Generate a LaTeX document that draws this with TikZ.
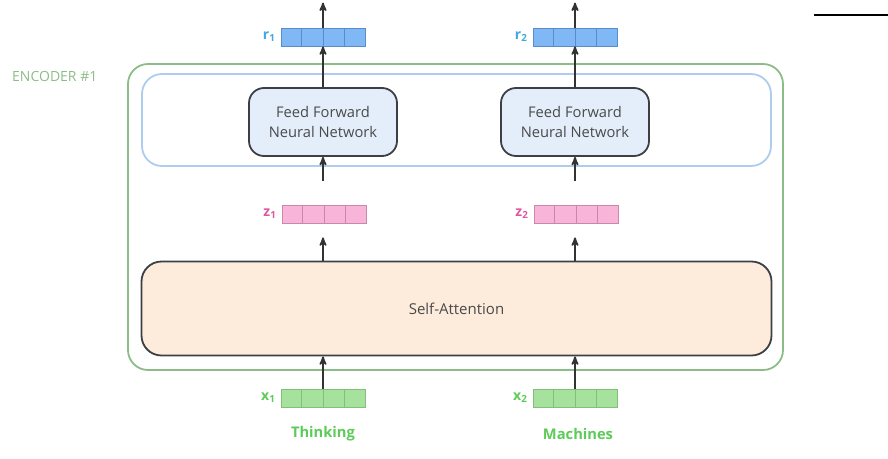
\documentclass[tikz,border=0pt]{standalone}
\usepackage{fontspec}
\setmainfont{Open Sans}
\usetikzlibrary{arrows}
\usetikzlibrary{positioning,calc}

\definecolor{encgreen}{HTML}{8CBD88}
\definecolor{ffblue}{HTML}{AECDEE}
\definecolor{fffill}{HTML}{E4EEFA}
\definecolor{safill}{HTML}{FDEBDB}
\definecolor{boxline}{HTML}{3C4045}
\definecolor{txtgray}{HTML}{4A4A4A}
\definecolor{rfill}{HTML}{80B8F5}
\definecolor{rline}{HTML}{5A8CC8}
\definecolor{rtext}{HTML}{3FA9DC}
\definecolor{zfill}{HTML}{F8B4D9}
\definecolor{zline}{HTML}{C88AA8}
\definecolor{ztext}{HTML}{E0579F}
\definecolor{xfill}{HTML}{A6E19E}
\definecolor{xline}{HTML}{80C079}
\definecolor{xtext}{HTML}{5CCB58}
\definecolor{arrowgray}{HTML}{333333}

\tikzset{
 vec/.style={draw=#1, line width=0.8pt, minimum width=84pt, minimum height=18pt, inner sep=0},
 veclabel/.style={left=5pt of #1, font=\fontsize{14}{16}\selectfont\bfseries, inner sep=0},
 layer/.style={draw=boxline, line width=1.8pt, rounded corners=15pt, align=center,
   text=txtgray, font=\fontsize{14.7}{20}\selectfont},
 arr/.style={->, >=stealth', draw=arrowgray, line width=1.8pt},
 word/.style={font=\fontsize{14.7}{16}\selectfont\bfseries, text=xtext},
}

\begin{document}
\begin{tikzpicture}[x=1pt,y=-1pt]
\useasboundingbox (0,0) rectangle (888,458);
% encoder frame and feed forward band
\node[draw=encgreen, line width=1.8pt, rounded corners=20pt, minimum width=655pt, minimum height=306pt] (enc) at (455.5,217) {};
\node[draw=ffblue, line width=1.8pt, rounded corners=20pt, minimum width=629pt, minimum height=92pt] (band) at (456.5,120) {};
\node[right, text=encgreen, font=\fontsize{14}{16}\selectfont, inner sep=0] (enclabel) at (12,76) {ENCODER \#1};
% layers
\node[layer, fill=safill, rounded corners=20pt, minimum width=630pt, minimum height=94pt, font=\fontsize{15}{18}\selectfont] (sa) at (456.5,308.5) {Self-Attention};
\node[layer, fill=fffill, minimum width=148pt, minimum height=68pt] (ffn1) at (323,122) {Feed Forward\\Neural Network};
\node[layer, fill=fffill, minimum width=148pt, minimum height=68pt] (ffn2) at (575,122) {Feed Forward\\Neural Network};
% vectors
\node[vec=rline, fill=rfill] (r1) at (323,37) {};
\node[vec=rline, fill=rfill] (r2) at (575,37) {};
\node[vec=zline, fill=zfill] (z1) at (324,214) {};
\node[vec=zline, fill=zfill] (z2) at (576,214) {};
\node[vec=xline, fill=xfill] (x1) at (323,398) {};
\node[vec=xline, fill=xfill] (x2) at (575,398) {};
\foreach \v/\c in {r1/rline,r2/rline,z1/zline,z2/zline,x1/xline,x2/xline}
 \foreach \i in {1,2,3}
  \draw[\c, line width=0.8pt] ($(\v.south west)!\i/4!(\v.south east)$) -- ($(\v.north west)!\i/4!(\v.north east)$);
\node[veclabel=r1, text=rtext] (r1l) {r\textsubscript{1}};
\node[veclabel=r2, text=rtext] (r2l) {r\textsubscript{2}};
\node[veclabel=z1, text=ztext] (z1l) {z\textsubscript{1}};
\node[veclabel=z2, text=ztext] (z2l) {z\textsubscript{2}};
\node[veclabel=x1, text=xtext] (x1l) {x\textsubscript{1}};
\node[veclabel=x2, text=xtext] (x2l) {x\textsubscript{2}};
% words
\node[word] (w1) at (323,434) {Thinking};
\node[word] (w2) at (578,434) {Machines};
% arrows
\foreach \n in {1,2} {
 \coordinate (zb\n) at ([yshift=-14pt]ffn\n.center |- z\n.south);
 \coordinate (zt\n) at ([yshift=24pt]ffn\n.center |- z\n.north);
 \coordinate (out\n) at ([yshift=25pt]r\n.north);
 \draw[arr] (x\n.north) -- (x\n.north |- sa.south);
 \draw[arr] (sa.north -| ffn\n) -- (zb\n);
 \draw[arr] (zt\n) -- (ffn\n.south);
 \draw[arr] (ffn\n.north) -- (r\n.south);
 \draw[arr] (r\n.north) -- (out\n);
}
\draw[black, line width=1.6pt] (814,15) -- (888,15);
\end{tikzpicture}
\end{document}
